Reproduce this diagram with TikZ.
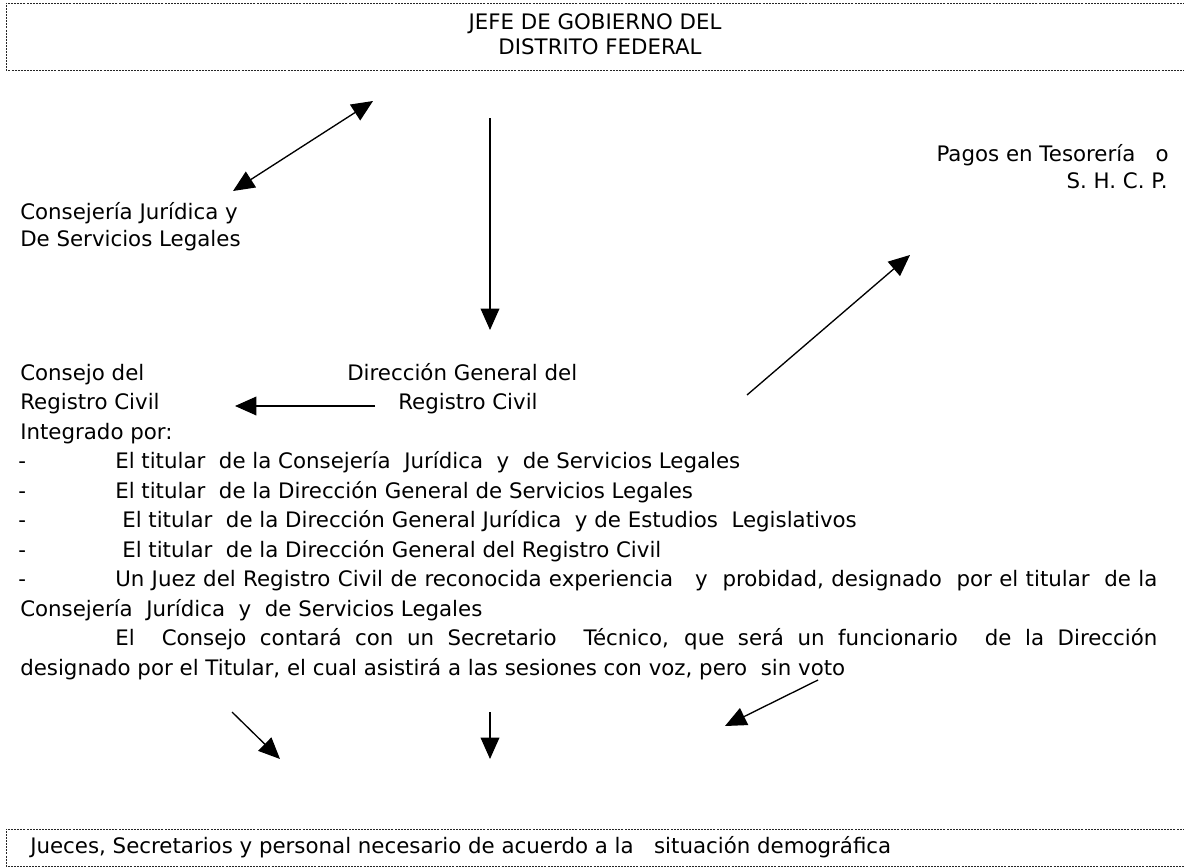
\documentclass[tikz,border=0pt]{standalone}
\usepackage{fontspec}
\setmainfont{DejaVu Sans}
\usetikzlibrary{arrows.meta}

\begin{document}
\begin{tikzpicture}[x=0.75pt, y=-0.75pt,
    txt/.style={anchor=base west, inner sep=0pt, font=\fontsize{16pt}{19pt}\selectfont},
    box/.style={draw=black!85, line width=0.6pt, dash pattern=on 1.5pt off 0.8pt},
    arr/.style={line width=1pt, -{Triangle[length=16pt, width=14pt]}},
    dblarr/.style={line width=1pt, {Triangle[length=16pt, width=14pt]}-{Triangle[length=16pt, width=14pt]}}]
  \useasboundingbox (0,0) rectangle (1184,867);

  % cuadro superior
  \draw[box] (1200,3) -- (6,3) -- (6,70) -- (1200,70);
  \node[txt, anchor=base] (jefe) at (595,30) {JEFE DE GOBIERNO DEL};
  \node[txt, anchor=base] (df) at (600,55) {DISTRITO FEDERAL};

  \node[txt] (cj1) at (20,219) {Consejería Jurídica y};
  \node[txt] (cj2) at (20,246) {De Servicios Legales};

  \node[txt, anchor=base east] (pagos) at (1169,161) {Pagos en Tesorería \ \ o};
  \node[txt, anchor=base east] (shcp) at (1168,188) {S. H. C. P.};

  \node[txt] (cons1) at (20,380) {Consejo del};
  \node[txt] (cons2) at (20,409.5) {Registro Civil};
  \node[txt] (integ) at (20,439) {Integrado por:};
  \node[txt] (dg1) at (347,380) {Dirección General del};
  \node[txt] (dg2) at (398,409.5) {Registro Civil};

  % lista de integrantes
  \foreach \i/\y in {1/468.5, 2/498, 3/527.5, 4/557, 5/586.5}
    \node[txt] (guion\i) at (18,\y) {-};
  \node[txt] (m1) at (115,468.5) {El titular \ de la Consejería \ Jurídica \ y \ de Servicios Legales};
  \node[txt] (m2) at (115,498) {El titular \ de la Dirección General de Servicios Legales};
  \node[txt] (m3) at (122,527.5) {El titular \ de la Dirección General Jurídica \ y de Estudios \ Legislativos};
  \node[txt] (m4) at (122,557) {El titular \ de la Dirección General del Registro Civil};
  \node[txt] (m5) at (115,586.5) {\makebox[781.5pt][s]{Un Juez del Registro Civil de reconocida experiencia \ \ y \ probidad, designado \ por el titular \ de la}};
  \node[txt] (m6) at (20,616) {Consejería \ Jurídica \ y \ de Servicios Legales};
  \node[txt] (sec1) at (115,645.5) {\makebox[781.5pt][s]{El \ Consejo contará con un Secretario \ Técnico, que será un funcionario \ de la Dirección}};
  \node[txt] (sec2) at (20,675) {designado por el Titular, el cual asistirá a las sesiones con voz, pero \ sin voto};

  % cuadro inferior
  \draw[box] (1200,829) -- (6,829) -- (6,866) -- (1200,866);
  \node[txt] (jueces) at (30,853) {Jueces, Secretarios y personal necesario de acuerdo a la \ \ situación demográfica};

  % flechas
  \coordinate (a1) at (233,191);
  \coordinate (a2) at (373,101);
  \coordinate (b1) at (490,118);
  \coordinate (b2) at (490,330);
  \coordinate (c1) at (375,406);
  \coordinate (c2) at (235,406);
  \coordinate (d1) at (747,395);
  \coordinate (d2) at (910,255);
  \coordinate (e1) at (232,712);
  \coordinate (e2) at (280,759);
  \coordinate (f1) at (490,712);
  \coordinate (f2) at (490,759);
  \coordinate (g1) at (818,680);
  \coordinate (g2) at (725,726);

  \draw[dblarr] (a1) -- (a2);
  \draw[arr] (b1) -- (b2);
  \draw[arr] (c1) -- (c2);
  \draw[arr] (d1) -- (d2);
  \draw[arr] (e1) -- (e2);
  \draw[arr] (f1) -- (f2);
  \draw[arr] (g1) -- (g2);
\end{tikzpicture}
\end{document}
